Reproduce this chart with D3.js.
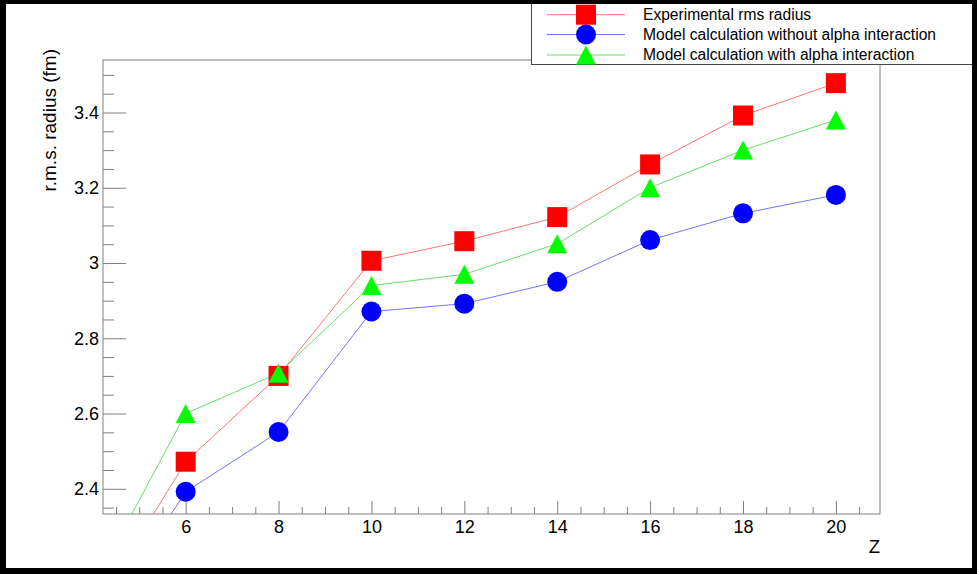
<!DOCTYPE html>
<html>
<head>
<meta charset="utf-8">
<script src="https://cdn.jsdelivr.net/npm/d3@7"></script>
<style>
  html, body { margin: 0; padding: 0; background: #fff; }
  svg { display: block; font-family: "Liberation Sans", Arial, Helvetica, sans-serif; }
</style>
</head>
<body>
<svg id="chart" width="977" height="574"></svg>
<script>
// Charge number of the alpha-conjugate nuclei (He, C, O, Ne, Mg, Si, S, Ar, Ca)
const zValues = [2, 6, 8, 10, 12, 14, 16, 18, 20];
// rms charge radii in fm
const experimental = [1.67, 2.472, 2.700, 3.006, 3.058, 3.122, 3.262, 3.392, 3.478];
const noAlpha      = [1.64, 2.392, 2.551, 2.871, 2.892, 2.950, 3.061, 3.132, 3.181];
const withAlpha    = [1.68, 2.600, 2.707, 2.940, 2.970, 3.051, 3.200, 3.300, 3.380];

const seriesNames = [
  "Experimental rms radius",
  "Model calculation without alpha interaction",
  "Model calculation with alpha interaction"
];

const xTickValues = [6, 8, 10, 12, 14, 16, 18, 20];
const xTickLabels = ["6", "8", "10", "12", "14", "16", "18", "20"];
const yTickValues = [2.4, 2.6, 2.8, 3.0, 3.2, 3.4];
const yTickLabels = ["2.4", "2.6", "2.8", "3", "3.2", "3.4"];

const xTitle = "Z";
const yTitle = "r.m.s. radius (fm)";

const svg = d3.select("#chart");
const W = 977, H = 574;
const frame = { left: 103, right: 880, top: 60, bottom: 514 };

const x = d3.scaleLinear().domain([4.22, 20.95]).range([frame.left, frame.right]);
const y = d3.scaleLinear().domain([2.333, 3.5395]).range([frame.bottom, frame.top]);

const axisGray = "#808080";

svg.append("rect").attr("width", W).attr("height", H).attr("fill", "#fff");

// frame box
svg.append("rect")
  .attr("x", frame.left).attr("y", frame.top)
  .attr("width", frame.right - frame.left).attr("height", frame.bottom - frame.top)
  .attr("fill", "none").attr("stroke", axisGray).attr("stroke-width", 1);

// minor tick values
const xMinor = d3.range(4.5, 20.51, 0.5).filter(v => Math.abs(v / 2 - Math.round(v / 2)) > 1e-6);
const yMinor = d3.range(2.35, 3.51, 0.05).map(v => +v.toFixed(2))
  .filter(v => !yTickValues.some(t => Math.abs(t - v) < 1e-6));

function styleAxis(g) {
  g.select(".domain").remove();
  g.selectAll(".tick line").attr("stroke", axisGray);
  g.selectAll(".tick text").attr("fill", "#000").attr("font-size", 18)
    .attr("font-family", "Liberation Sans, Arial, sans-serif");
}

// x axis
svg.append("g").attr("transform", `translate(0,${frame.bottom})`)
  .call(d3.axisBottom(x).tickValues(xMinor).tickSizeInner(-7).tickSizeOuter(0).tickFormat(""))
  .call(styleAxis);
svg.append("g").attr("transform", `translate(0,${frame.bottom})`)
  .call(d3.axisBottom(x).tickValues(xTickValues).tickSizeInner(-13).tickSizeOuter(0)
    .tickPadding(6).tickFormat((d, i) => xTickLabels[i]))
  .call(styleAxis);

// y axis
svg.append("g").attr("transform", `translate(${frame.left},0)`)
  .call(d3.axisLeft(y).tickValues(yMinor).tickSizeInner(-11).tickSizeOuter(0).tickFormat(""))
  .call(styleAxis);
svg.append("g").attr("transform", `translate(${frame.left},0)`)
  .call(d3.axisLeft(y).tickValues(yTickValues).tickSizeInner(-23).tickSizeOuter(0)
    .tickPadding(4).tickFormat((d, i) => yTickLabels[i]))
  .call(styleAxis);

// axis titles
svg.append("text")
  .attr("x", frame.right).attr("y", 553)
  .attr("text-anchor", "end").attr("font-size", 18.5).attr("fill", "#000")
  .text(xTitle);
svg.append("text")
  .attr("transform", "translate(56,49) rotate(-90)")
  .attr("text-anchor", "end").attr("font-size", 19).attr("fill", "#000")
  .text(yTitle);

// clip region for data
svg.append("clipPath").attr("id", "plotClip")
  .append("rect")
  .attr("x", frame.left).attr("y", frame.top)
  .attr("width", frame.right - frame.left).attr("height", frame.bottom - frame.top);

const markerR = 10;
const markerPath = {
  square: (cx, cy) => `M${cx - markerR},${cy - markerR}h${2 * markerR}v${2 * markerR}h${-2 * markerR}Z`,
  circle: (cx, cy) => `M${cx - markerR},${cy}a${markerR},${markerR} 0 1,0 ${2 * markerR},0a${markerR},${markerR} 0 1,0 ${-2 * markerR},0Z`,
  triangle: (cx, cy) => `M${cx - markerR},${cy + 9.5}L${cx + markerR},${cy + 9.5}L${cx},${cy - 9.5}Z`
};

const series = [
  { name: seriesNames[0], values: experimental, color: "#ff0000", line: "rgba(255,0,0,0.55)", marker: "square" },
  { name: seriesNames[1], values: noAlpha, color: "#0000ff", line: "rgba(0,0,255,0.55)", marker: "circle" },
  { name: seriesNames[2], values: withAlpha, color: "#00ff00", line: "rgba(0,200,0,0.6)", marker: "triangle" }
];

const plot = svg.append("g").attr("clip-path", "url(#plotClip)");
const lineGen = d3.line().x(d => x(d[0])).y(d => y(d[1]));

series.forEach(s => {
  const pts = zValues.map((z, i) => [z, s.values[i]]);
  const g = plot.append("g");
  g.append("path").datum(pts)
    .attr("d", lineGen).attr("fill", "none")
    .attr("stroke", s.line).attr("stroke-width", 1);
  g.selectAll("path.m").data(pts).join("path")
    .attr("class", "m")
    .attr("d", d => markerPath[s.marker](x(d[0]), y(d[1])))
    .attr("fill", s.color);
});

// legend
const legend = svg.append("g");
legend.append("rect")
  .attr("x", 531.5).attr("y", 2.5).attr("width", 446).attr("height", 62)
  .attr("fill", "#fff").attr("stroke", "#444").attr("stroke-width", 1);
const rowY = [14.7, 34.5, 55];
series.forEach((s, i) => {
  const cy = rowY[i];
  legend.append("line")
    .attr("x1", 547).attr("x2", 625).attr("y1", cy).attr("y2", cy)
    .attr("stroke", s.line).attr("stroke-width", 1);
  legend.append("path")
    .attr("d", markerPath[s.marker](586, cy))
    .attr("fill", s.color);
  legend.append("text")
    .attr("x", 643).attr("y", cy + 5)
    .attr("font-size", 15.6).attr("fill", "#000")
    .text(s.name);
});

// canvas border
const border = "#000";
svg.append("rect").attr("x", 0).attr("y", 0).attr("width", W).attr("height", 4).attr("fill", border);
svg.append("rect").attr("x", 0).attr("y", 568).attr("width", W).attr("height", 6).attr("fill", border);
svg.append("rect").attr("x", 0).attr("y", 0).attr("width", 6).attr("height", H).attr("fill", border);
svg.append("rect").attr("x", 972).attr("y", 0).attr("width", 5).attr("height", H).attr("fill", border);
</script>
</body>
</html>
